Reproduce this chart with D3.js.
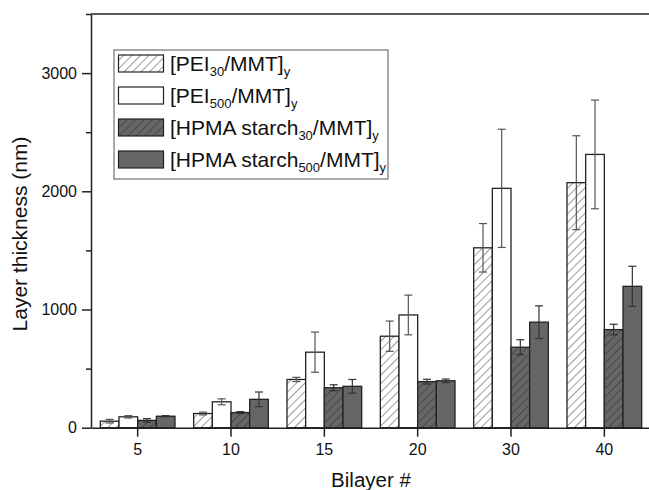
<!DOCTYPE html>
<html>
<head>
<meta charset="utf-8">
<script src="https://cdn.jsdelivr.net/npm/d3@7"></script>
<style>
  body { margin: 0; background: #fff; }
  text { font-family: "Liberation Sans", Arial, sans-serif; fill: #111; }
</style>
</head>
<body>
<svg id="chart" width="649" height="490"></svg>
<script>
// data
const bilayers = ["5", "10", "15", "20", "30", "40"];
const seriesNames = ["PEI30", "PEI500", "HPMA30", "HPMA500"];
const pei30 = [55, 120, 408, 774, 1522, 2073];
const pei30Err = [15, 12, 18, 128, 205, 397];
const pei500 = [92, 219, 639, 954, 2025, 2312];
const pei500Err = [10, 25, 170, 168, 500, 460];
const hpma30 = [62, 128, 338, 390, 681, 830];
const hpma30Err = [15, 8, 25, 20, 63, 45];
const hpma500 = [97, 240, 350, 397, 893, 1196];
const hpma500Err = [5, 62, 58, 15, 138, 170];
const yTicks = [0, 1000, 2000, 3000];
const yMinor = [500, 1500, 2500, 3500];

const values = [pei30, pei500, hpma30, hpma500];
const errors = [pei30Err, pei500Err, hpma30Err, hpma500Err];
const fills = ["url(#hatchLight)", "#fff", "url(#hatchDark)", "#666"];
const errColor = ["#555", "#555", "#333", "#333"];

const svg = d3.select("#chart");
const plotLeft = 91, plotRight = 651, plotTop = 14, plotBottom = 427.7;

const defs = svg.append("defs");
function hatch(id, bg) {
  const p = defs.append("pattern")
    .attr("id", id)
    .attr("patternUnits", "userSpaceOnUse")
    .attr("width", 6).attr("height", 6)
    .attr("patternTransform", "rotate(45)");
  p.append("rect").attr("width", 6).attr("height", 6).attr("fill", bg);
  p.append("line").attr("x1", 0).attr("y1", 0).attr("x2", 0).attr("y2", 6)
    .attr("stroke", "#222").attr("stroke-width", 0.9);
}
hatch("hatchLight", "#fff");
hatch("hatchDark", "#666");

const x = d3.scaleBand().domain(bilayers).range([plotLeft, plotRight]).padding(0);
const xs = d3.scaleBand().domain(seriesNames)
  .range([x.step() * 0.1, x.step() * 0.9]).padding(0);
const y = d3.scaleLinear().domain([0, 3500]).range([plotBottom, plotTop]);

// bars
seriesNames.forEach((s, si) => {
  const g = svg.append("g");
  const rows = bilayers.map((b, i) => ({ b: b, v: values[si][i], e: errors[si][i] }));
  g.selectAll("rect").data(rows).enter().append("rect")
    .attr("x", d => x(d.b) + xs(s))
    .attr("y", d => y(d.v))
    .attr("width", xs.bandwidth())
    .attr("height", d => y(0) - y(d.v))
    .attr("fill", fills[si])
    .attr("stroke", "#222")
    .attr("stroke-width", 1.3);

  // error bars
  const eg = svg.append("g").attr("stroke", errColor[si]).attr("stroke-width", 1.2);
  rows.forEach(d => {
    const cx = x(d.b) + xs(s) + xs.bandwidth() / 2;
    eg.append("line").attr("x1", cx).attr("x2", cx)
      .attr("y1", y(d.v + d.e)).attr("y2", y(d.v - d.e));
    [d.v + d.e, d.v - d.e].forEach(v => {
      eg.append("line").attr("x1", cx - 4).attr("x2", cx + 4)
        .attr("y1", y(v)).attr("y2", y(v));
    });
  });
});

// frame
svg.append("line").attr("x1", plotLeft).attr("x2", plotRight).attr("y1", plotTop).attr("y2", plotTop)
  .attr("stroke", "#222").attr("stroke-width", 1.5);
svg.append("line").attr("x1", plotRight).attr("x2", plotRight).attr("y1", plotTop).attr("y2", plotBottom)
  .attr("stroke", "#222").attr("stroke-width", 1.5);

// axes
const yAxis = svg.append("g").attr("transform", "translate(" + plotLeft + ",0)")
  .call(d3.axisLeft(y).tickValues(yTicks).tickFormat(d3.format("d"))
    .tickSize(9).tickPadding(5).tickSizeOuter(0));
svg.append("g").attr("transform", "translate(" + plotLeft + ",0)")
  .call(d3.axisLeft(y).tickValues(yMinor).tickSize(5).tickFormat("").tickSizeOuter(0))
  .select(".domain").remove();
const xAxis = svg.append("g").attr("transform", "translate(0," + plotBottom + ")")
  .call(d3.axisBottom(x).tickSize(9).tickPadding(7).tickSizeOuter(0));

[yAxis, xAxis].forEach(a => {
  a.selectAll("text").attr("font-size", 16).attr("fill", "#111")
    .attr("font-family", "Liberation Sans, Arial, sans-serif");
});
svg.selectAll(".tick line").attr("stroke", "#222").attr("stroke-width", 1.5);
svg.selectAll("path.domain").attr("stroke", "#222").attr("stroke-width", 1.5);

// axis titles
svg.append("text")
  .attr("transform", "translate(27,234) rotate(-90)")
  .attr("text-anchor", "middle").attr("font-size", 21)
  .text("Layer thickness (nm)");
svg.append("text")
  .attr("x", (plotLeft + plotRight) / 2).attr("y", 487)
  .attr("text-anchor", "middle").attr("font-size", 20.5)
  .text("Bilayer #");

// legend
const legend = svg.append("g");
legend.append("rect").attr("x", 114).attr("y", 50).attr("width", 274).attr("height", 129)
  .attr("fill", "#fff").attr("stroke", "#555").attr("stroke-width", 1);
const legendLabels = [
  ["[PEI", "30", "/MMT]", "y"],
  ["[PEI", "500", "/MMT]", "y"],
  ["[HPMA starch", "30", "/MMT]", "y"],
  ["[HPMA starch", "500", "/MMT]", "y"]
];
legendLabels.forEach((lab, i) => {
  const yy = 55 + i * 32;
  legend.append("rect").attr("x", 118.5).attr("y", yy).attr("width", 45).attr("height", 17)
    .attr("fill", fills[i]).attr("stroke", "#222").attr("stroke-width", 1.2);
  const t = legend.append("text").attr("x", 170).attr("y", yy + 16).attr("font-size", 21);
  t.append("tspan").text(lab[0]);
  t.append("tspan").attr("font-size", 13).attr("dy", 5).text(lab[1]);
  t.append("tspan").attr("dy", -5).text(lab[2]);
  t.append("tspan").attr("font-size", 13).attr("dy", 5).text(lab[3]);
});
</script>
</body>
</html>
